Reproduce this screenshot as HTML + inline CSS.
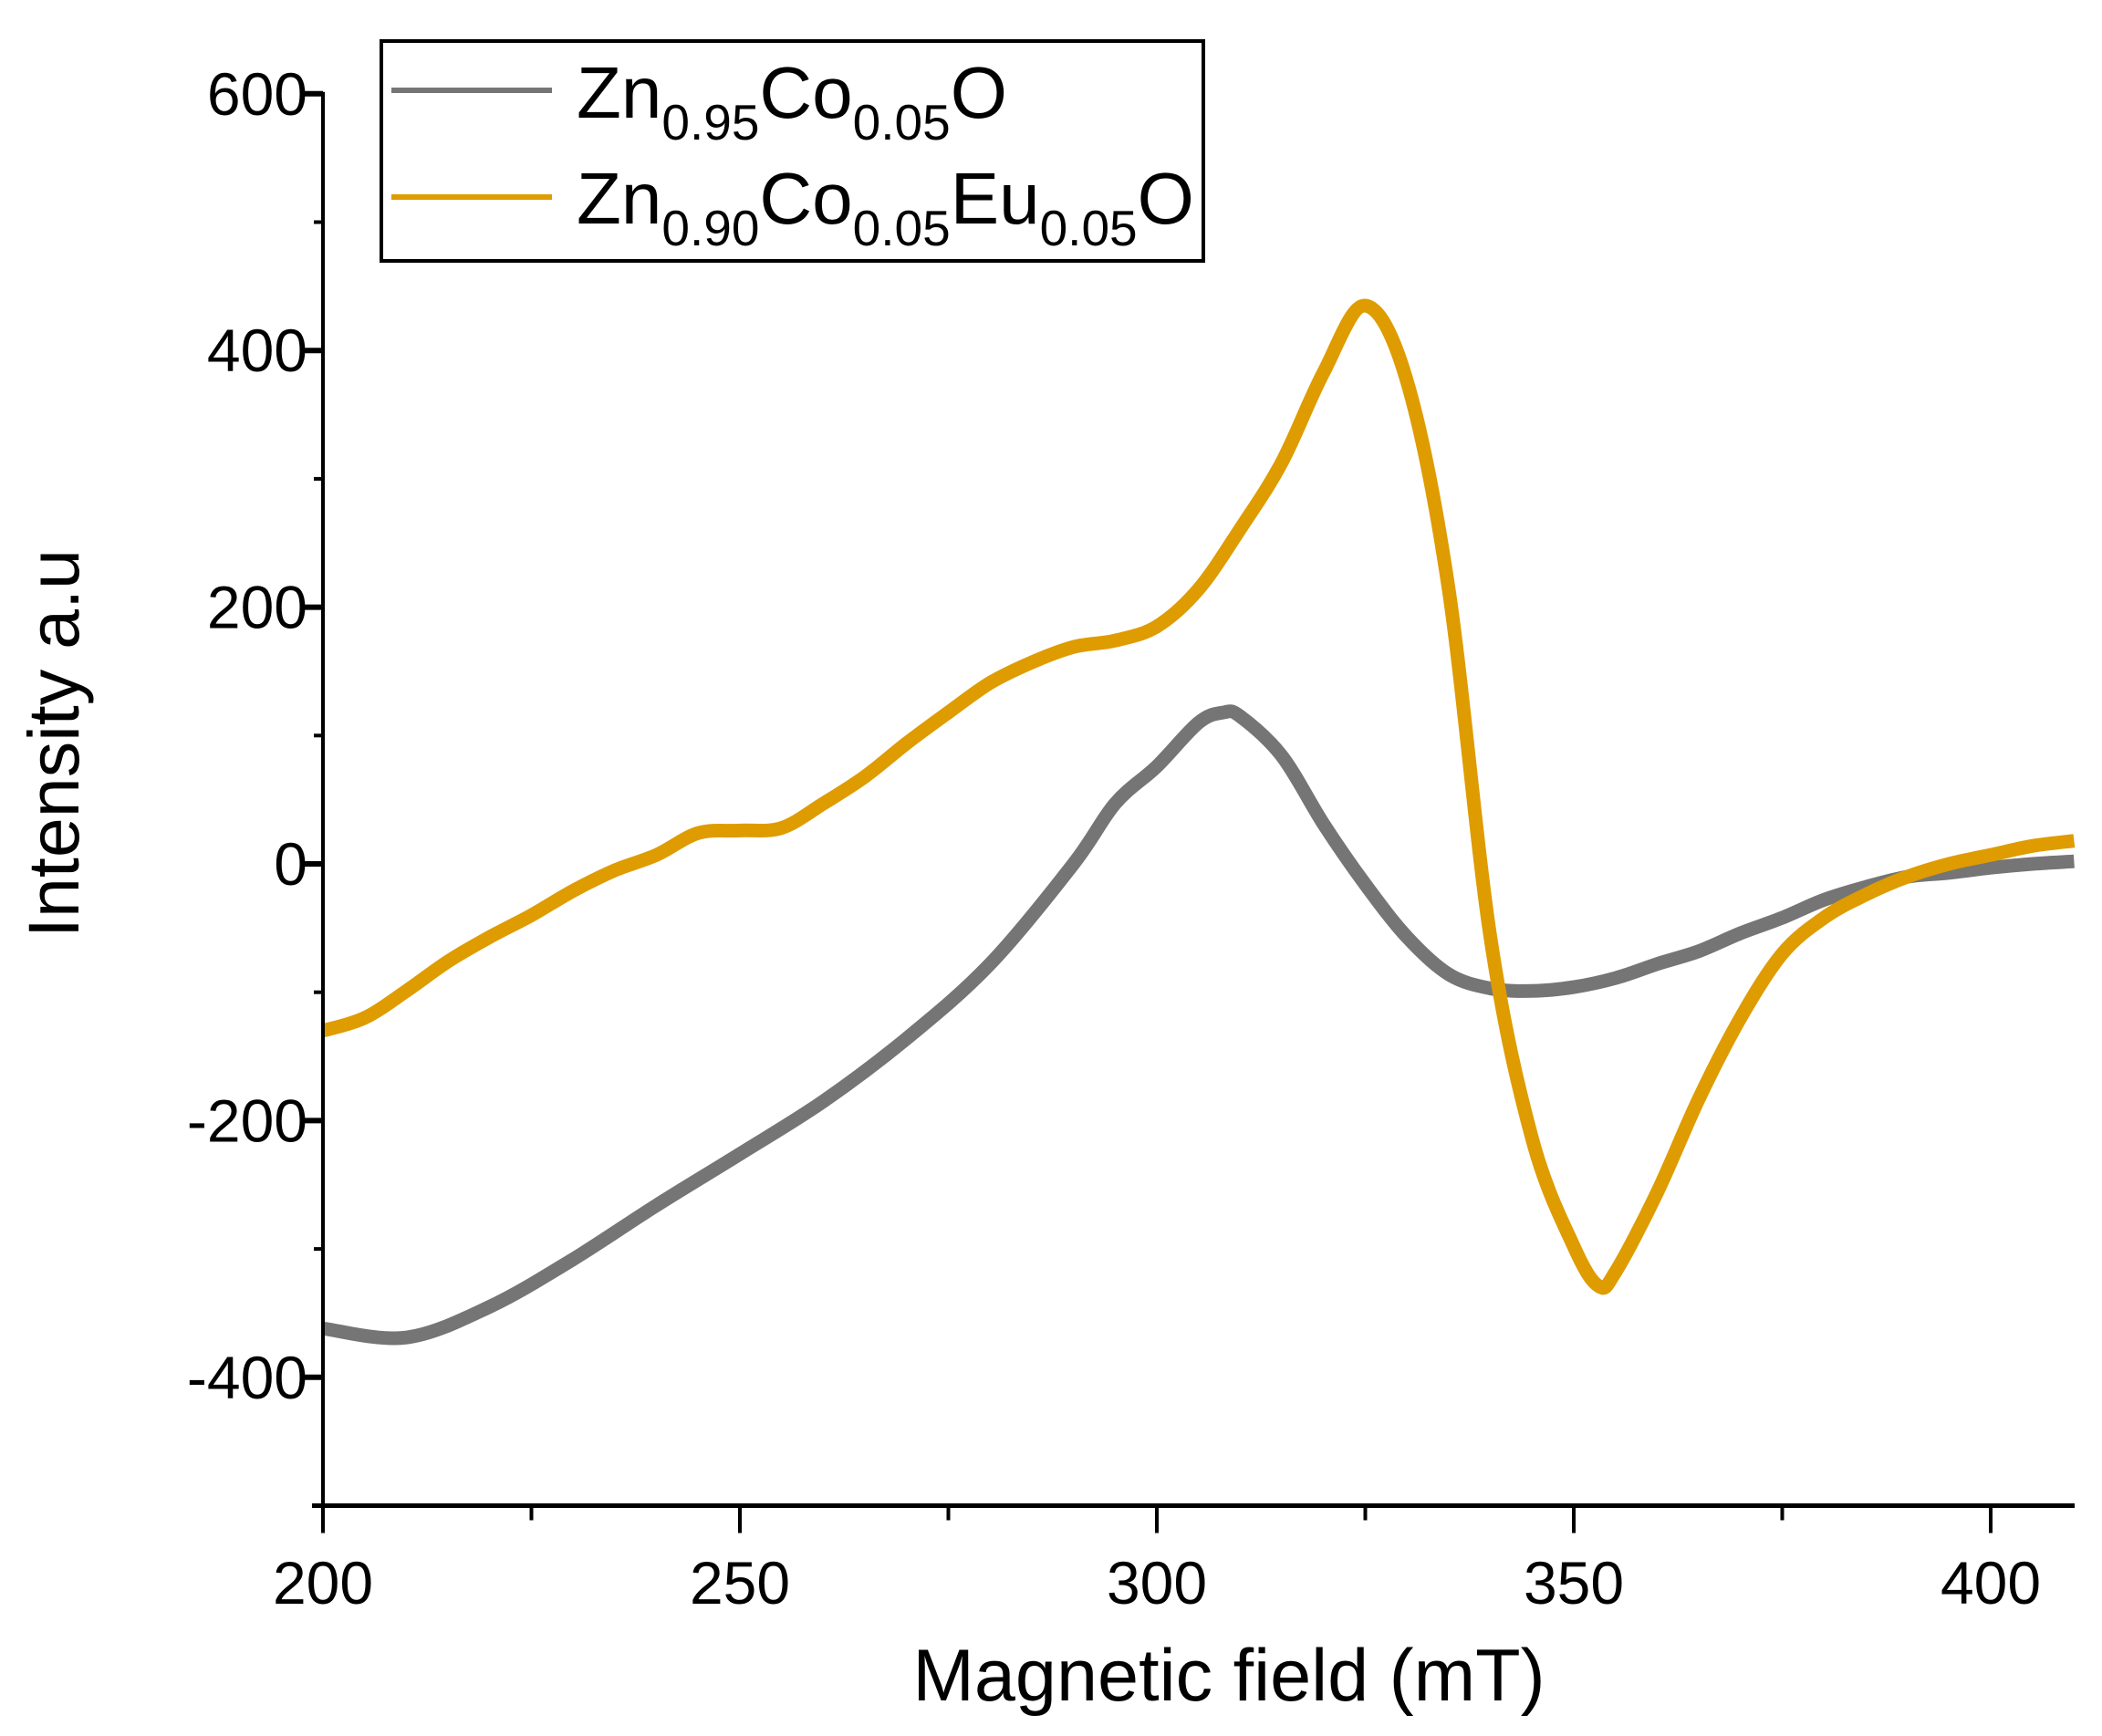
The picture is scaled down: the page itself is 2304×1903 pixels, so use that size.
<!DOCTYPE html>
<html><head><meta charset="utf-8"><style>
html,body{margin:0;padding:0;background:#fff;}
svg{display:block;font-family:"Liberation Sans",Arial,sans-serif;}
</style></head><body>
<svg id="chart" width="2304" height="1903" viewBox="0 0 2304 1903">
<g id="plot"></g>
<g id="axes"></g>
<text x="1347" y="1864" font-size="81" text-anchor="middle">Magnetic field (mT)</text>
<text transform="translate(86,815) rotate(-90)" font-size="79" text-anchor="middle">Intensity a.u</text>
<g>
<rect x="418" y="45" width="901" height="241" fill="#fff" stroke="#000" stroke-width="4"/>
<line x1="429" y1="99" x2="605" y2="99" stroke="#757575" stroke-width="6"/>
<text x="632" y="129" font-size="80">Zn<tspan font-size="55" dy="24">0.95</tspan><tspan dy="-24">Co</tspan><tspan font-size="55" dy="24">0.05</tspan><tspan dy="-24">O</tspan></text>
<line x1="429" y1="216" x2="605" y2="216" stroke="#DE9C00" stroke-width="6"/>
<text x="632" y="245" font-size="80">Zn<tspan font-size="55" dy="24">0.90</tspan><tspan dy="-24">Co</tspan><tspan font-size="55" dy="24">0.05</tspan><tspan dy="-24">Eu</tspan><tspan font-size="55" dy="24">0.05</tspan><tspan dy="-24">O</tspan></text>
</g>
</svg>
<script>
const fieldGray = [200,210,220,230,240,250,260,270,280,290,295,300,305,308,310,315,320,325,330,335,340,345,350,355,360,365,370,375,380,385,390,395,400,405,410];
const valuesGray = [-362,-369,-345,-308,-266,-226,-185,-136,-78,0,47,76,110,118,115,84,31,-16,-57,-86,-97,-99,-96,-89,-78,-68,-54,-42,-28,-18,-10,-7,-3,0,2];
const fieldOrange = [200,205,210,215,220,225,230,235,240,245,250,255,260,265,270,275,280,285,290,295,300,305,310,315,320,325,330,335,340,345,350,353,355,360,365,370,375,380,385,390,395,400,405,410];
const valuesOrange = [-130,-120,-99,-76,-57,-40,-21,-5,7,24,26,28,47,68,94,118,141,157,169,174,185,214,261,313,383,435,376,214,-57,-214,-298,-329,-318,-256,-183,-120,-70,-42,-24,-10,0,7,14,18];
const yTicks = [-400,-200,0,200,400,600];
const xTicks = [200,250,300,350,400];

const NS = "http://www.w3.org/2000/svg";
const X0=354, X1=2182, Y0=947, YPER=281.4/200;
function xs(v){return X0+(v-200)*(X1-X0)/200;}
function ys(v){return Y0-v*YPER;}
function mk(tag,attrs,parent){const e=document.createElementNS(NS,tag);for(const k in attrs)e.setAttribute(k,attrs[k]);parent.appendChild(e);return e;}
const plot=document.getElementById('plot'), axes=document.getElementById('axes');

function series(f,v,color,name){
  const pts=f.map((x,i)=>[xs(x),ys(v[i])]);
  let d='M'+pts[0][0].toFixed(1)+','+pts[0][1].toFixed(1);
  for(let i=0;i<pts.length-1;i++){
    const p0=pts[Math.max(0,i-1)],p1=pts[i],p2=pts[i+1],p3=pts[Math.min(pts.length-1,i+2)];
    const c1=[p1[0]+(p2[0]-p0[0])/6,p1[1]+(p2[1]-p0[1])/6];
    const c2=[p2[0]-(p3[0]-p1[0])/6,p2[1]-(p3[1]-p1[1])/6];
    d+='C'+c1[0].toFixed(1)+','+c1[1].toFixed(1)+' '+c2[0].toFixed(1)+','+c2[1].toFixed(1)+' '+p2[0].toFixed(1)+','+p2[1].toFixed(1);
  }
  const p=mk('path',{d:d,fill:'none',stroke:color,'stroke-width':15,'stroke-linejoin':'round','stroke-linecap':'butt'},plot);
  
  
}
series(fieldGray,valuesGray,'#757575','series-zn095-co005-o');
series(fieldOrange,valuesOrange,'#DE9C00','series-zn090-co005-eu005-o');

const yBottom=ys(-500), xRight=2274;
const ya=mk('line',{x1:X0,y1:ys(600)-2,x2:X0,y2:yBottom,stroke:'#000','stroke-width':4},axes);


const xa=mk('line',{x1:X0-12,y1:yBottom,x2:xRight,y2:yBottom,stroke:'#000','stroke-width':5},axes);



for(let v=-500; v<=600; v+=100){
  const major = yTicks.indexOf(v)>=0;
  if(v===-500) continue;
  const t=mk('line',{x1:X0-(major?24:10),y1:ys(v),x2:X0,y2:ys(v),stroke:'#000','stroke-width':major?6:4},axes);
  
  
}
yTicks.forEach(v=>{
  const t=mk('text',{x:337,y:ys(v)+23,'font-size':66,'text-anchor':'end'},axes);
  t.textContent=v;
  
  
});
for(let v=200; v<=410; v+=25){
  const major = xTicks.indexOf(v)>=0;
  const t=mk('line',{x1:xs(v),y1:yBottom,x2:xs(v),y2:yBottom+(major?30:16),stroke:'#000','stroke-width':4},axes);
  
  
}
xTicks.forEach(v=>{
  const t=mk('text',{x:xs(v),y:1758,'font-size':66,'text-anchor':'middle'},axes);
  t.textContent=v;
  
  
});
</script>
</body></html>
